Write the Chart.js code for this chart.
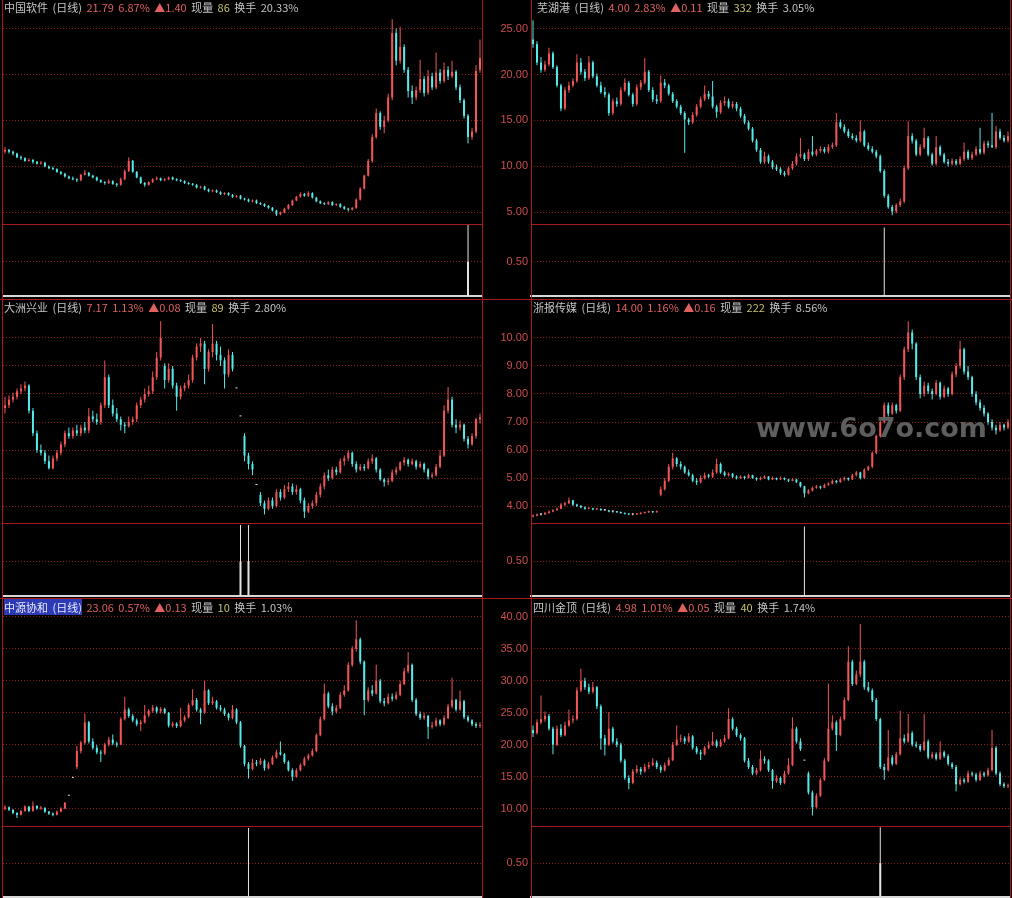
<!DOCTYPE html>
<html>
<head>
<meta charset="utf-8">
<script src="https://cdn.jsdelivr.net/npm/chart.js@4"></script>
<style>
  html, body { margin: 0; padding: 0; background: #000; }
  #stage { position: relative; width: 1012px; height: 898px; overflow: hidden; background: #000; }
  #stage canvas { position: absolute; }
  .frame { position: absolute; background: #a81a1a; z-index: 5; }
  .head { position: absolute; z-index: 6; font: 11px "Noto Sans CJK SC", sans-serif; line-height: 14px;
          white-space: pre; word-spacing: 2px; color: #c4c4c4; }
  .head .q { color: #e06060; }
  .head .v { color: #c6c26a; }
  .head .sel { background: #2c3bb4; color: #e8e8ff; }
  .mark { position: absolute; z-index: 7; left: 756px; top: 414px; font: bold 27px "DejaVu Sans", sans-serif;
          line-height: 27px; color: #5e5e5e; white-space: pre; }
</style>
</head>
<body>
<div id="stage"></div>
<script>
// ---------- daily candles [open, high, low, close] ----------
const ohlcZgrj = [ // 中国软件
  [11.6,12.1,11.4,11.8],[11.8,11.9,11.4,11.6],[11.6,11.7,11.2,11.4],[11.4,11.5,10.9,11.0],[11.0,11.2,10.7,10.9],
  [10.9,11.0,10.5,10.6],[10.6,10.9,10.5,10.7],[10.7,10.8,10.3,10.5],[10.5,10.6,10.2,10.3],[10.3,10.6,10.2,10.4],
  [10.4,10.5,9.9,10.0],[10.0,10.1,9.7,9.8],[9.8,10.0,9.6,9.7],[9.7,9.8,9.3,9.4],[9.4,9.5,9.1,9.2],
  [9.2,9.3,8.8,8.9],[8.9,9.0,8.6,8.7],[8.7,8.9,8.5,8.6],[8.6,8.7,8.3,8.5],[8.5,9.2,8.4,9.1],
  [9.1,9.6,9.0,9.3],[9.3,9.4,8.9,9.0],[9.0,9.1,8.7,8.8],[8.8,8.9,8.4,8.5],[8.5,8.6,8.2,8.3],
  [8.3,8.4,8.0,8.2],[8.2,8.6,8.1,8.4],[8.4,8.5,8.0,8.1],[8.1,8.2,7.8,8.0],[8.0,8.8,7.9,8.6],
  [8.6,9.7,8.5,9.5],[9.5,11.0,9.4,10.6],[10.6,10.7,9.3,9.4],[9.4,9.5,8.7,8.8],[8.8,8.9,8.1,8.2],
  [8.2,8.3,7.8,8.0],[8.0,8.4,7.9,8.3],[8.3,8.7,8.2,8.6],[8.6,8.9,8.5,8.7],[8.7,8.8,8.4,8.5],
  [8.5,8.7,8.4,8.6],[8.6,8.9,8.5,8.8],[8.8,8.9,8.5,8.6],[8.6,8.7,8.4,8.5],[8.5,8.6,8.3,8.4],
  [8.4,8.5,8.1,8.2],[8.2,8.3,8.0,8.1],[8.1,8.2,7.9,8.0],[8.0,8.1,7.6,7.7],[7.7,7.9,7.6,7.8],
  [7.8,7.9,7.4,7.5],[7.5,7.6,7.2,7.3],[7.3,7.5,7.2,7.4],[7.4,7.5,7.1,7.2],[7.2,7.3,6.9,7.0],
  [7.0,7.2,6.9,7.1],[7.1,7.2,6.8,6.9],[6.9,7.0,6.6,6.7],[6.7,6.9,6.6,6.8],[6.8,6.9,6.4,6.5],
  [6.5,6.6,6.3,6.4],[6.4,6.5,6.1,6.2],[6.2,6.4,6.1,6.3],[6.3,6.4,5.9,6.0],[6.0,6.1,5.8,5.9],
  [5.9,6.0,5.6,5.7],[5.7,5.8,5.4,5.5],[5.5,5.6,5.1,5.2],[5.2,5.3,4.6,4.8],[4.8,5.1,4.7,5.0],
  [5.0,5.5,4.9,5.4],[5.4,5.9,5.3,5.8],[5.8,6.4,5.7,6.3],[6.3,6.8,6.2,6.7],[6.7,7.2,6.6,7.0],
  [7.0,7.1,6.7,6.8],[6.8,7.3,6.7,7.1],[7.1,7.2,6.5,6.6],[6.6,6.7,6.1,6.2],[6.2,6.3,5.9,6.0],
  [6.0,6.1,5.8,5.9],[5.9,6.2,5.8,6.1],[6.1,6.2,5.7,5.8],[5.8,6.0,5.7,5.9],[5.9,6.0,5.5,5.6],
  [5.6,5.7,5.3,5.4],[5.4,5.5,5.1,5.3],[5.3,5.6,5.2,5.5],[5.5,6.5,5.4,6.4],[6.4,7.7,6.3,7.6],
  [7.6,9.1,7.5,9.0],[9.0,10.8,8.9,10.6],[10.6,13.5,10.4,13.2],[13.2,16.3,13.0,15.8],[15.8,16.0,14.0,14.3],
  [14.3,15.5,13.6,15.0],[15.0,17.9,14.8,17.5],[17.5,26.0,17.2,24.5],[24.5,25.0,21.0,21.5],[21.5,25.2,21.2,23.0],
  [23.0,23.3,20.2,20.5],[20.5,20.8,17.5,18.2],[18.2,18.8,16.8,17.5],[17.5,18.7,17.2,18.3],[18.3,21.6,18.0,19.5],
  [19.5,19.8,17.6,18.0],[18.0,20.5,17.8,19.8],[19.8,20.2,18.3,18.6],[18.6,22.4,18.4,20.2],[20.2,20.6,19.0,19.3],
  [19.3,21.3,19.1,20.5],[20.5,20.9,19.4,19.8],[19.8,21.5,19.6,20.3],[20.3,20.5,18.3,18.6],[18.6,18.9,16.9,17.2],
  [17.2,17.4,15.2,15.5],[15.5,15.7,12.5,13.2],[13.2,14.2,12.9,13.8],[13.8,21.0,13.6,20.39],[20.5,23.8,20.2,21.79]
];

const ohlcWhg = [ // 芜湖港
  [23.8,25.9,22.9,23.3],[23.3,23.6,21.0,21.3],[21.3,21.9,20.2,20.5],[20.5,21.5,20.3,21.1],[21.1,22.9,20.9,22.3],
  [22.3,22.5,20.6,20.8],[20.8,21.0,18.6,18.8],[18.8,19.0,16.0,16.3],[16.3,18.6,16.1,18.3],[18.3,19.2,18.0,18.8],
  [18.8,19.6,18.6,19.3],[19.3,22.2,19.1,21.3],[21.3,21.8,20.0,20.3],[20.3,20.6,19.3,19.6],[19.6,22.0,19.4,21.3],
  [21.3,21.5,19.6,19.8],[19.8,20.1,18.6,18.8],[18.8,19.2,17.9,18.1],[18.1,18.6,17.5,17.8],[17.8,18.0,15.5,15.8],
  [15.8,17.4,15.6,17.1],[17.1,17.5,16.5,16.8],[16.8,18.6,16.6,18.3],[18.3,19.6,18.1,19.1],[19.1,19.3,17.6,17.8],
  [17.8,18.0,16.5,16.8],[16.8,18.9,16.6,18.6],[18.6,19.4,18.3,19.1],[19.1,21.8,18.9,20.3],[20.3,20.5,18.1,18.3],
  [18.3,18.6,17.0,17.3],[17.3,17.8,16.8,17.1],[17.1,19.9,16.9,19.1],[19.1,19.5,18.5,18.8],[18.8,19.0,17.7,17.9],
  [17.9,18.1,16.9,17.1],[17.1,17.3,16.3,16.5],[16.5,16.7,15.6,15.8],[15.8,16.0,11.5,15.1],[15.1,15.3,14.5,14.8],
  [14.8,15.9,14.6,15.6],[15.6,16.8,15.4,16.5],[16.5,17.6,16.3,17.3],[17.3,18.8,17.1,17.9],[17.9,18.2,17.3,17.6],
  [17.6,19.3,16.3,16.5],[16.5,16.7,15.3,15.9],[15.9,17.2,15.7,16.9],[16.9,17.6,16.6,17.1],[17.1,17.4,16.3,16.5],
  [16.5,17.1,16.3,16.8],[16.8,17.0,16.0,16.3],[16.3,16.5,15.3,15.5],[15.5,15.7,14.6,14.8],[14.8,15.0,13.9,14.1],
  [14.1,14.3,12.6,12.8],[12.8,13.0,11.6,11.8],[11.8,12.0,10.3,10.5],[10.5,11.6,10.3,11.1],[11.1,11.3,10.3,10.5],
  [10.5,10.7,9.7,9.9],[9.9,10.2,9.5,9.7],[9.7,9.9,9.1,9.3],[9.3,9.5,8.9,9.1],[9.1,10.0,9.0,9.8],
  [9.8,10.6,9.6,10.3],[10.3,11.4,10.1,11.1],[11.1,13.1,10.9,11.3],[11.3,11.5,10.6,10.8],[10.8,11.9,10.6,11.6],
  [11.6,13.3,11.1,11.3],[11.3,11.9,11.1,11.7],[11.7,12.2,11.5,11.9],[11.9,12.1,11.4,11.6],[11.6,12.4,11.4,12.1],
  [12.1,12.6,11.9,12.3],[12.3,15.8,12.1,14.8],[14.8,15.1,14.1,14.3],[14.3,14.6,13.6,13.8],[13.8,14.1,13.1,13.3],
  [13.3,13.6,12.9,13.1],[13.1,13.4,12.6,12.8],[12.8,15.0,12.6,13.8],[13.8,14.0,12.1,12.3],[12.3,12.6,11.7,11.9],
  [11.9,12.2,11.4,11.6],[11.6,11.8,10.9,11.1],[11.1,11.3,9.3,9.5],[9.5,9.7,6.6,6.8],[6.8,7.0,5.4,5.6],
  [5.6,5.8,4.7,5.1],[5.1,6.0,4.9,5.8],[5.8,6.5,5.6,6.2],[6.2,10.1,6.0,9.8],[9.8,14.9,9.6,13.3],
  [13.3,13.6,12.5,12.8],[12.8,13.0,11.1,11.3],[11.3,12.4,11.1,12.1],[12.1,14.2,11.9,13.1],[13.1,13.3,11.1,11.3],
  [11.3,11.5,10.1,10.3],[10.3,13.3,10.1,12.1],[12.1,12.3,11.1,11.3],[11.3,11.5,10.3,10.5],[10.5,10.8,10.0,10.3],
  [10.3,10.9,10.1,10.6],[10.6,10.8,10.1,10.3],[10.3,11.1,10.1,10.8],[10.8,12.6,10.6,11.6],[11.6,11.8,10.7,10.9],
  [10.9,11.6,10.7,11.3],[11.3,12.2,11.1,11.9],[11.9,14.2,11.3,11.5],[11.5,12.8,11.3,12.5],[12.5,12.8,12.0,12.3],
  [12.3,15.8,12.0,12.1],[12.1,14.4,11.9,13.8],[13.8,14.1,12.9,13.1],[13.1,13.4,12.6,12.8],[12.8,13.8,12.6,13.3]
];

const ohlcDzxy = [ // 大洲兴业
  [7.5,7.9,7.3,7.6],[7.6,7.95,7.5,7.8],[7.8,8.05,7.7,7.9],[7.9,8.2,7.8,8.1],[8.1,8.35,8.0,8.2],
  [8.2,8.45,8.1,8.3],[8.3,8.35,7.3,7.4],[7.4,7.5,6.5,6.6],[6.6,6.7,5.9,6.0],[6.0,6.2,5.8,5.9],
  [5.9,6.0,5.5,5.6],[5.6,5.8,5.3,5.35],[5.35,5.8,5.3,5.7],[5.7,6.0,5.6,5.9],[5.9,6.3,5.8,6.2],
  [6.2,6.7,6.1,6.6],[6.6,6.8,6.4,6.5],[6.5,6.8,6.4,6.7],[6.7,6.9,6.5,6.6],[6.6,6.9,6.5,6.8],
  [6.8,7.0,6.6,6.7],[6.7,7.5,6.6,7.2],[7.2,7.4,7.0,7.1],[7.1,7.3,6.9,7.0],[7.0,7.7,6.9,7.6],
  [7.6,9.2,7.5,8.6],[8.6,8.7,7.5,7.6],[7.6,7.8,7.2,7.3],[7.3,7.5,7.0,7.1],[7.1,7.2,6.7,6.9],
  [6.9,7.0,6.6,6.85],[6.85,7.2,6.8,7.0],[7.0,7.2,6.9,7.1],[7.1,7.7,7.0,7.6],[7.6,7.9,7.5,7.8],
  [7.8,8.2,7.7,8.0],[8.0,8.3,7.9,8.1],[8.1,8.8,8.0,8.6],[8.6,9.5,8.5,9.3],[9.3,10.6,9.2,10.0],
  [9.0,9.1,8.2,8.5],[8.5,9.1,8.4,8.9],[8.9,9.0,8.2,8.3],[8.3,8.4,7.4,7.9],[7.9,8.3,7.8,8.2],
  [8.2,8.4,8.1,8.3],[8.3,8.7,8.2,8.5],[8.5,9.4,8.4,9.3],[9.3,9.8,9.2,9.7],[9.7,10.0,9.5,9.8],
  [9.8,9.9,8.35,8.9],[8.9,9.6,8.8,9.5],[9.5,10.5,9.3,9.8],[9.8,9.9,9.2,9.4],[9.4,9.7,9.0,9.2],
  [9.2,9.3,8.2,8.7],[8.7,9.6,8.6,9.4],[9.4,9.5,8.8,8.9],[8.2,8.2,8.2,8.2],[7.2,7.2,7.2,7.2],
  [6.5,6.6,5.6,5.8],[5.8,5.9,5.3,5.5],[5.5,5.6,5.1,5.3],[4.75,4.75,4.75,4.75],[4.4,4.5,4.0,4.1],
  [4.1,4.2,3.7,3.9],[3.9,4.3,3.85,4.2],[4.2,4.3,3.9,4.0],[4.0,4.6,3.95,4.5],[4.5,4.6,4.2,4.3],
  [4.3,4.75,4.25,4.6],[4.6,4.85,4.5,4.7],[4.7,4.8,4.4,4.5],[4.5,4.75,4.4,4.6],[4.6,4.65,4.1,4.2],
  [4.2,4.3,3.57,3.8],[3.8,4.1,3.75,4.0],[4.0,4.2,3.9,4.1],[4.1,4.5,4.0,4.4],[4.4,4.8,4.3,4.7],
  [4.7,5.2,4.6,5.1],[5.1,5.3,4.9,5.0],[5.0,5.4,4.95,5.3],[5.3,5.4,5.1,5.2],[5.2,5.7,5.15,5.6],
  [5.6,5.8,5.45,5.7],[5.7,6.0,5.6,5.9],[5.9,5.95,5.4,5.5],[5.5,5.6,5.2,5.3],[5.3,5.5,5.25,5.4],
  [5.4,5.5,5.25,5.35],[5.35,5.7,5.3,5.6],[5.6,5.85,5.5,5.7],[5.7,5.75,5.2,5.3],[5.3,5.35,4.9,4.95],
  [4.95,5.0,4.7,4.85],[4.85,5.0,4.75,4.9],[4.9,5.3,4.85,5.2],[5.2,5.4,5.1,5.3],[5.3,5.6,5.25,5.55],
  [5.55,5.75,5.45,5.65],[5.65,5.7,5.4,5.5],[5.5,5.7,5.45,5.6],[5.6,5.65,5.3,5.4],[5.4,5.6,5.35,5.5],
  [5.5,5.55,5.2,5.3],[5.3,5.35,4.95,5.05],[5.05,5.2,5.0,5.1],[5.1,5.5,5.05,5.4],[5.4,6.0,5.35,5.8],
  [5.8,7.6,5.75,7.4],[7.4,8.25,7.3,7.8],[7.8,7.9,6.8,6.9],[6.9,7.1,6.6,6.8],[6.8,7.05,6.7,6.9],
  [6.9,6.95,6.3,6.4],[6.4,6.5,6.05,6.2],[6.2,6.6,6.15,6.5],[6.5,7.15,6.4,7.09],[7.09,7.3,6.95,7.17]
];

const ohlcZbcm = [ // 浙报传媒
  [3.62,3.7,3.6,3.65],[3.65,3.73,3.63,3.7],[3.7,3.74,3.66,3.7],[3.7,3.79,3.68,3.75],[3.75,3.84,3.73,3.8],
  [3.8,3.88,3.78,3.85],[3.85,3.95,3.83,3.9],[3.9,4.1,3.88,4.05],[4.05,4.15,4.0,4.1],[4.1,4.3,4.07,4.2],
  [4.2,4.22,4.0,4.05],[4.05,4.08,3.96,4.0],[4.0,4.04,3.92,3.95],[3.95,3.98,3.87,3.9],[3.9,3.96,3.88,3.92],
  [3.92,3.94,3.85,3.88],[3.88,3.93,3.86,3.9],[3.9,3.91,3.83,3.85],[3.85,3.88,3.82,3.85],[3.85,3.86,3.78,3.8],
  [3.8,3.84,3.77,3.8],[3.8,3.82,3.75,3.78],[3.78,3.8,3.72,3.75],[3.75,3.77,3.7,3.72],[3.72,3.74,3.67,3.7],
  [3.7,3.73,3.67,3.7],[3.7,3.75,3.68,3.72],[3.72,3.78,3.7,3.75],[3.75,3.8,3.73,3.78],[3.78,3.83,3.75,3.8],
  [3.8,3.82,3.75,3.78],[3.78,3.84,3.76,3.8],[4.4,4.7,4.35,4.6],[4.6,5.0,4.55,4.9],[4.9,5.5,4.85,5.4],
  [5.4,5.9,5.3,5.7],[5.7,5.75,5.4,5.5],[5.5,5.6,5.3,5.4],[5.4,5.45,5.15,5.2],[5.2,5.3,5.05,5.1],
  [5.1,5.15,4.85,4.9],[4.9,5.0,4.75,4.85],[4.85,5.1,4.8,5.0],[5.0,5.2,4.95,5.1],[5.1,5.15,5.0,5.05],
  [5.05,5.3,5.0,5.2],[5.2,5.7,5.15,5.5],[5.5,5.55,5.15,5.2],[5.2,5.25,5.05,5.1],[5.1,5.2,5.05,5.15],
  [5.15,5.18,5.0,5.05],[5.05,5.1,4.95,5.0],[5.0,5.1,4.97,5.05],[5.05,5.08,4.95,5.0],[5.0,5.15,4.98,5.1],
  [5.1,5.12,4.97,5.0],[5.0,5.03,4.9,4.95],[4.95,5.05,4.92,5.0],[5.0,5.1,4.97,5.05],[5.05,5.07,4.92,4.95],
  [4.95,5.05,4.93,5.0],[5.0,5.02,4.92,4.95],[4.95,5.05,4.93,5.0],[5.0,5.02,4.92,4.95],[4.95,4.97,4.86,4.9],
  [4.9,4.99,4.88,4.95],[4.95,4.97,4.82,4.85],[4.85,4.87,4.66,4.7],[4.7,4.72,4.3,4.45],[4.45,4.6,4.42,4.55],
  [4.55,4.7,4.52,4.65],[4.65,4.75,4.62,4.7],[4.7,4.72,4.6,4.65],[4.65,4.8,4.63,4.75],[4.75,4.85,4.72,4.8],
  [4.8,4.95,4.78,4.9],[4.9,4.93,4.8,4.85],[4.85,5.0,4.83,4.95],[4.95,5.05,4.9,5.0],[5.0,5.02,4.9,4.95],
  [4.95,5.15,4.93,5.1],[5.1,5.25,5.05,5.2],[5.2,5.22,4.95,5.0],[5.0,5.35,4.97,5.3],[5.3,5.45,5.25,5.4],
  [5.4,5.95,5.35,5.9],[5.9,6.55,5.85,6.5],[6.5,7.05,6.45,7.0],[7.0,7.7,6.95,7.6],[7.6,7.7,7.2,7.3],
  [7.3,7.7,7.25,7.6],[7.6,7.65,7.3,7.4],[7.4,8.7,7.35,8.6],[8.6,9.7,8.5,9.6],[9.6,10.6,9.5,10.2],
  [10.2,10.3,9.6,9.8],[9.8,9.85,8.5,8.6],[8.6,8.7,7.85,8.0],[8.0,8.45,7.9,8.3],[8.3,8.4,8.0,8.1],
  [8.1,8.2,7.8,8.0],[8.0,8.5,7.95,8.4],[8.4,8.45,7.8,7.9],[7.9,8.3,7.85,8.2],[8.2,8.25,7.9,8.0],
  [8.0,8.8,7.95,8.7],[8.7,9.1,8.6,9.0],[9.0,9.9,8.9,9.6],[9.6,9.65,8.7,8.8],[8.8,9.0,8.5,8.6],
  [8.6,8.65,7.9,8.0],[8.0,8.1,7.6,7.7],[7.7,7.8,7.4,7.5],[7.5,7.6,7.2,7.3],[7.3,7.35,6.9,7.0],
  [7.0,7.1,6.7,6.8],[6.8,6.9,6.55,6.7],[6.7,7.0,6.65,6.9],[6.9,6.95,6.7,6.8],[6.8,7.1,6.75,7.0]
];

const ohlcZyxh = [ // 中源协和
  [10.0,10.5,9.7,10.2],[10.2,10.3,9.6,9.8],[9.8,9.9,9.1,9.3],[9.3,9.4,8.5,9.0],[9.0,9.8,8.9,9.6],
  [9.6,10.5,9.5,10.3],[10.3,10.4,9.4,9.6],[9.6,11.1,9.5,10.4],[10.4,10.5,9.8,10.0],[10.0,10.4,9.8,10.1],
  [10.1,10.2,9.3,9.5],[9.5,9.6,9.0,9.2],[9.2,9.4,8.8,9.0],[9.0,9.7,8.9,9.5],[9.5,10.2,9.4,10.0],
  [10.0,11.0,9.9,10.9],[12.0,12.0,12.0,12.0],[14.8,14.8,14.8,14.8],[16.5,19.8,16.2,19.0],[19.0,20.6,18.6,20.3],
  [20.3,24.9,20.0,23.5],[23.5,23.7,20.2,20.5],[20.5,21.0,19.2,19.5],[19.5,20.0,18.5,18.8],[18.8,19.2,17.3,18.6],
  [18.6,20.3,18.4,20.0],[20.0,21.2,19.7,20.8],[20.8,21.6,19.9,20.2],[20.2,20.5,19.6,20.0],[20.0,24.3,19.9,24.0],
  [24.0,27.5,23.8,25.5],[25.5,25.8,24.2,24.5],[24.5,24.8,23.5,23.8],[23.8,24.1,22.9,23.2],[23.2,23.9,22.1,23.5],
  [23.5,26.2,23.3,24.6],[24.6,25.6,24.3,25.3],[25.3,26.2,25.0,25.8],[25.8,26.0,24.9,25.2],[25.2,25.9,24.9,25.6],
  [25.6,25.8,24.8,25.0],[25.0,25.1,22.7,23.0],[23.0,23.6,22.7,23.3],[23.3,23.5,22.6,22.9],[22.9,25.8,22.7,23.8],
  [23.8,24.6,23.5,24.3],[24.3,26.5,24.1,26.2],[26.2,28.7,26.0,27.0],[27.0,27.3,25.2,25.5],[25.5,25.8,23.2,25.0],
  [25.0,30.0,24.8,28.5],[28.5,28.7,26.2,26.5],[26.5,27.5,26.2,26.8],[26.8,27.0,25.5,25.8],[25.8,26.2,25.2,25.5],
  [25.5,25.8,24.5,24.8],[24.8,25.0,23.8,24.2],[24.2,26.2,24.0,25.5],[25.5,25.7,23.2,23.5],[23.5,23.7,19.5,19.8],
  [19.8,20.0,16.6,17.0],[17.0,17.3,14.7,16.2],[16.2,17.8,16.0,17.2],[17.2,17.6,16.6,17.0],[17.0,17.9,16.8,17.5],
  [17.5,17.7,15.9,16.3],[16.3,17.3,16.1,17.0],[17.0,18.3,16.8,18.0],[18.0,19.2,17.8,18.8],[18.8,20.5,18.3,18.5],
  [18.5,18.7,17.0,17.3],[17.3,17.5,15.8,16.0],[16.0,16.3,14.3,15.0],[15.0,16.3,14.8,16.0],[16.0,17.1,15.8,16.8],
  [16.8,18.1,16.6,17.8],[17.8,18.6,17.5,18.3],[18.3,19.4,18.1,19.0],[19.0,21.8,18.8,21.5],[21.5,24.4,21.3,24.0],
  [24.0,29.6,23.8,28.0],[28.0,28.3,25.7,26.0],[26.0,26.5,24.6,25.2],[25.2,26.2,24.9,25.8],[25.8,28.2,25.6,27.8],
  [27.8,29.3,27.5,28.5],[28.5,32.9,28.3,32.5],[32.5,35.4,32.2,35.0],[35.0,39.5,34.6,36.5],[36.5,36.8,32.6,33.0],
  [33.0,33.2,24.6,27.0],[27.0,29.0,26.7,28.5],[28.5,29.3,27.6,28.0],[28.0,32.5,27.8,30.0],[30.0,30.3,26.5,26.8],
  [26.8,27.3,26.0,26.5],[26.5,28.0,26.3,27.5],[27.5,28.0,26.8,27.2],[27.2,28.3,27.0,27.8],[27.8,30.0,27.6,29.5],
  [29.5,32.0,29.3,31.5],[31.5,34.5,31.2,32.5],[32.5,32.7,26.7,27.0],[27.0,27.3,24.5,24.8],[24.8,25.2,23.9,24.2],
  [24.2,25.0,23.9,24.5],[24.5,24.7,20.9,22.8],[22.8,23.6,22.5,23.0],[23.0,24.2,22.8,23.8],[23.8,24.0,22.9,23.2],
  [23.2,24.6,23.0,24.2],[24.2,26.4,24.0,26.0],[26.0,30.5,25.7,27.0],[27.0,27.2,25.2,25.5],[25.5,28.5,25.3,26.8],
  [26.8,27.0,24.0,24.3],[24.3,24.6,23.5,23.8],[23.8,24.0,22.9,23.2],[23.2,23.5,22.6,22.93],[22.93,23.5,22.6,23.06]
];

const ohlcScjd = [ // 四川金顶
  [22.3,23.0,21.2,21.8],[21.8,24.0,21.6,23.5],[23.5,27.7,23.2,24.0],[24.0,25.2,23.6,24.5],[24.5,24.8,22.2,22.5],
  [22.5,22.8,18.5,20.0],[20.0,23.0,19.8,22.5],[22.5,23.2,21.2,21.5],[21.5,23.6,21.3,23.0],[23.0,25.5,22.8,23.8],
  [23.8,24.6,23.3,24.0],[24.0,29.0,23.8,28.5],[28.5,31.9,28.2,30.0],[30.0,30.5,28.6,29.0],[29.0,29.6,27.9,28.3],
  [28.3,29.8,28.0,29.0],[29.0,29.2,25.6,26.0],[26.0,26.3,19.2,21.0],[21.0,21.5,18.3,20.0],[20.0,25.1,19.8,22.5],
  [22.5,22.8,20.2,20.5],[20.5,21.0,19.6,20.0],[20.0,20.3,17.2,17.5],[17.5,17.8,14.5,14.8],[14.8,15.2,13.0,14.0],
  [14.0,16.2,13.8,15.8],[15.8,16.8,15.5,16.2],[16.2,16.5,15.3,15.8],[15.8,17.0,15.6,16.5],[16.5,17.3,16.2,16.8],
  [16.8,17.9,16.6,17.2],[17.2,17.5,16.2,16.5],[16.5,16.8,15.6,16.0],[16.0,17.2,15.8,16.8],[16.8,18.0,16.6,17.6],
  [17.6,20.4,17.4,20.0],[20.0,23.0,19.8,20.8],[20.8,21.6,20.4,21.0],[21.0,21.3,20.1,20.5],[20.5,21.8,20.3,21.3],
  [21.3,21.5,19.2,19.5],[19.5,19.8,18.5,18.8],[18.8,19.2,17.6,18.5],[18.5,19.8,18.3,19.5],[19.5,20.5,19.3,20.0],
  [20.0,22.0,19.8,20.5],[20.5,20.8,19.5,19.8],[19.8,20.9,19.6,20.5],[20.5,21.5,20.3,21.0],[21.0,25.7,20.8,24.0],
  [24.0,24.3,22.2,22.5],[22.5,22.8,21.2,21.5],[21.5,21.8,20.6,21.0],[21.0,21.2,17.2,17.5],[17.5,17.9,16.2,16.5],
  [16.5,16.8,15.2,15.5],[15.5,16.4,15.2,16.0],[16.0,19.1,15.8,17.8],[17.8,18.2,17.0,17.5],[17.5,17.7,15.7,16.0],
  [16.0,16.2,13.1,14.3],[14.3,15.2,14.0,14.8],[14.8,15.0,13.7,14.0],[14.0,15.9,13.8,15.5],[15.5,17.9,15.3,16.8],
  [16.8,24.3,16.6,22.5],[22.5,22.8,20.2,20.5],[20.5,21.0,19.0,19.3],[17.5,17.5,17.5,17.5],[15.5,15.8,12.2,12.5],
  [12.5,12.8,8.9,10.2],[10.2,12.4,10.0,12.0],[12.0,14.8,11.8,14.5],[14.5,17.9,14.3,17.5],[17.5,29.6,17.3,22.5],
  [22.5,24.6,22.2,23.5],[23.5,23.8,19.0,21.5],[21.5,24.4,21.3,24.0],[24.0,27.4,23.8,27.0],[27.0,35.4,26.8,33.0],
  [33.0,33.3,29.2,29.5],[29.5,31.6,29.3,31.0],[31.0,38.9,30.6,33.0],[33.0,33.3,28.6,29.0],[29.0,29.8,28.2,28.5],
  [28.5,28.8,26.7,27.0],[27.0,27.3,23.7,24.0],[24.0,24.2,16.2,16.5],[16.5,17.0,14.5,16.0],[16.0,22.3,15.8,18.0],
  [18.0,18.4,16.7,17.0],[17.0,18.9,16.8,18.5],[18.5,25.3,18.3,21.0],[21.0,21.6,20.2,20.5],[20.5,24.8,20.3,21.8],
  [21.8,22.1,19.7,20.0],[20.0,20.5,19.5,19.8],[19.8,20.1,18.9,19.2],[19.2,24.8,19.0,20.5],[20.5,20.8,17.7,18.0],
  [18.0,18.9,17.8,18.5],[18.5,18.8,17.5,17.8],[17.8,20.5,17.6,18.8],[18.8,19.1,17.9,18.2],[18.2,18.5,16.7,17.0],
  [17.0,17.3,16.2,16.5],[16.5,16.8,12.7,13.8],[13.8,14.9,13.6,14.5],[14.5,14.8,13.9,14.2],[14.2,15.9,14.0,15.5],
  [15.5,15.8,15.0,15.3],[15.3,15.6,14.2,14.5],[14.5,15.9,14.3,15.5],[15.5,15.8,14.9,15.2],[15.2,16.4,15.0,16.0],
  [16.0,22.3,15.8,19.5],[19.5,19.8,15.2,15.5],[15.5,15.8,13.5,13.8],[13.8,14.1,13.2,13.5],[13.5,13.9,13.2,13.6]
];

// ---------- volume spikes: [candle index, bar value, heavy lower part] ----------
const volZgrj = [[116, 1.04, 0.5]];
const volWhg  = [[88, 1.0, 0]];
const volDzxy = [[59, 1.02, 0.5], [61, 1.02, 0.5]];
const volZbcm = [[68, 1.0, 0]];
const volZyxh = [[61, 1.02, 0]];
const volScjd = [[87, 1.03, 0.5]];

// ---------- quote lines: name, price & change %, change, 现量 value, turnover ----------
const headZgrj = ['中国软件 (日线)', '21.79 6.87%', '▲1.40', '86', '20.33%'];
const headWhg  = ['芜湖港 (日线)', '4.00 2.83%', '▲0.11', '332', '3.05%'];
const headDzxy = ['大洲兴业 (日线)', '7.17 1.13%', '▲0.08', '89', '2.80%'];
const headZbcm = ['浙报传媒 (日线)', '14.00 1.16%', '▲0.16', '222', '8.56%'];
const headZyxh = ['中源协和 (日线)', '23.06 0.57%', '▲0.13', '10', '1.03%'];
const headScjd = ['四川金顶 (日线)', '4.98 1.01%', '▲0.05', '40', '1.74%'];

// ---------- axis ticks and ranges ----------
const ticksRow1 = [5, 10, 15, 20, 25];
const ticksRow2 = [4, 5, 6, 7, 8, 9, 10];
const ticksRow3 = [10, 15, 20, 25, 30, 35, 40];
const volTicks = [0.5];
const rangeRow1 = [3.738, 26.468];
const rangeRow2 = [3.393, 10.857];
const rangeRow3 = [7.258, 40.313];
const volRange = [0, 1.05];

// ---------- look ----------
const UP = '#f25656', DOWN = '#56eaea', FLAT = '#e6e6e6', VOL = '#e4e4e4';
const GRID = '#8e1e1e', AXIS_TEXT = '#cc4c4c';
const PAD = 12;           // room above / below each plot for edge tick labels
const PLOT_W = 479;

const rows = [
  { priceTop: 15,  priceBottom: 224, volBottom: 296, ticks: ticksRow1, range: rangeRow1, headTop: 0 },
  { priceTop: 314, priceBottom: 523, volBottom: 596, ticks: ticksRow2, range: rangeRow2, headTop: 300 },
  { priceTop: 615, priceBottom: 826, volBottom: 897, ticks: ticksRow3, range: rangeRow3, headTop: 600 }
];
const cols = [
  { left: 3,   axis: 0,  headLeft: 4 },
  { left: 531, axis: 48, headLeft: 533 }
];
const panels = [
  { ohlc: ohlcZgrj, vol: volZgrj, head: headZgrj, row: 0, col: 0 },
  { ohlc: ohlcWhg,  vol: volWhg,  head: headWhg,  row: 0, col: 1, indent: 4 },
  { ohlc: ohlcDzxy, vol: volDzxy, head: headDzxy, row: 1, col: 0 },
  { ohlc: ohlcZbcm, vol: volZbcm, head: headZbcm, row: 1, col: 1 },
  { ohlc: ohlcZyxh, vol: volZyxh, head: headZyxh, row: 2, col: 0, selected: true },
  { ohlc: ohlcScjd, vol: volScjd, head: headScjd, row: 2, col: 1 }
];

const stage = document.getElementById('stage');

function addCanvas(x, y, w, h) {
  const c = document.createElement('canvas');
  c.width = w; c.height = h;
  c.style.left = x + 'px'; c.style.top = y + 'px';
  c.style.width = w + 'px'; c.style.height = h + 'px';
  stage.appendChild(c);
  return c;
}

function valueScale(range, ticks, axisWidth) {
  return {
    min: range[0], max: range[1], position: 'left',
    afterFit: s => { s.width = axisWidth; },
    afterBuildTicks: s => { s.ticks = ticks.map(v => ({ value: v })); },
    ticks: {
      display: axisWidth > 0, color: AXIS_TEXT, padding: 3,
      font: { family: 'Liberation Sans', size: 11 },
      callback: v => Number(v).toFixed(2)
    },
    grid: { color: GRID, drawTicks: false, lineWidth: 1 },
    border: { display: false, dash: [1, 2] }
  };
}

function baseOptions() {
  return {
    animation: false, responsive: false, maintainAspectRatio: false, devicePixelRatio: 1,
    events: [],
    layout: { padding: { top: PAD, bottom: PAD, left: 0, right: 0 } },
    plugins: { legend: { display: false }, tooltip: { enabled: false } }
  };
}

function drawPrice(p) {
  const row = rows[p.row], col = cols[p.col];
  const canvas = addCanvas(col.left - col.axis, row.priceTop - PAD, col.axis + PLOT_W,
                           row.priceBottom - row.priceTop + 2 * PAD);
  const colours = p.ohlc.map(([o, , , c]) => c > o ? UP : (c < o ? DOWN : FLAT));
  const opts = baseOptions();
  opts.scales = {
    x: { display: false, offset: true },
    y: valueScale(row.range, row.ticks, col.axis)
  };
  new Chart(canvas, {
    type: 'bar',
    data: {
      labels: p.ohlc.map((_, i) => i),
      datasets: [
        // wick: low → high
        { data: p.ohlc.map(d => [d[2], d[1]]), backgroundColor: colours, barThickness: 1,
          grouped: false, order: 2, inflateAmount: 0 },
        // body: open → close
        { data: p.ohlc.map(d => [d[0], d[3]]), backgroundColor: colours, barThickness: 2,
          grouped: false, order: 1, minBarLength: 1, inflateAmount: 0 }
      ]
    },
    options: opts
  });
}

function drawVolume(p) {
  const row = rows[p.row], col = cols[p.col];
  const canvas = addCanvas(col.left - col.axis, row.priceBottom - PAD, col.axis + PLOT_W,
                           row.volBottom - row.priceBottom + 2 * PAD);
  const n = p.ohlc.length;
  const tall = new Array(n).fill(null), heavy = new Array(n).fill(null);
  p.vol.forEach(([i, v, h]) => { tall[i] = v; if (h) heavy[i] = h; });
  const opts = baseOptions();
  opts.scales = {
    x: { display: true, offset: true, ticks: { display: false },
         grid: { display: false, drawTicks: false },
         border: { display: true, color: '#d8d8d8', width: 2 },
         afterFit: s => { s.height = 0; } },
    y: valueScale(volRange, volTicks, col.axis)
  };
  new Chart(canvas, {
    type: 'bar',
    data: {
      labels: p.ohlc.map((_, i) => i),
      datasets: [
        { data: tall, backgroundColor: VOL, barThickness: 1, grouped: false, inflateAmount: 0 },
        { data: heavy, backgroundColor: VOL, barThickness: 2, grouped: false, inflateAmount: 0 }
      ]
    },
    options: opts
  });
}

function drawHead(p) {
  const row = rows[p.row], col = cols[p.col];
  const d = document.createElement('div');
  d.className = 'head';
  d.style.left = (col.headLeft + (p.indent || 0)) + 'px';
  d.style.top = row.headTop + 'px';
  const [name, quote, change, vol, turn] = p.head;
  const nameSpan = p.selected ? `<span class="sel">${name}</span>` : `<span>${name}</span>`;
  d.innerHTML = `${nameSpan} <span class="q">${quote}</span> <span class="q">${change}</span> ` +
                `<span>现量</span> <span class="v">${vol}</span> <span>换手 ${turn}</span>`;
  stage.appendChild(d);
}

function line(x, y, w, h) {
  const d = document.createElement('div');
  d.className = 'frame';
  d.style.cssText = `left:${x}px;top:${y}px;width:${w}px;height:${h}px`;
  stage.appendChild(d);
}

panels.forEach(p => { drawPrice(p); drawVolume(p); drawHead(p); });

// panel frames
[2, 482, 531, 1010].forEach(x => line(x, 0, 1, 898));
[224, 523, 826].forEach(y => { line(2, y, 481, 1); line(531, y, 480, 1); });
[299, 598].forEach(y => line(0, y, 1012, 1));

const mark = document.createElement('div');
mark.className = 'mark';
mark.textContent = 'www.6o7o.com';
stage.appendChild(mark);
</script>
</body>
</html>
